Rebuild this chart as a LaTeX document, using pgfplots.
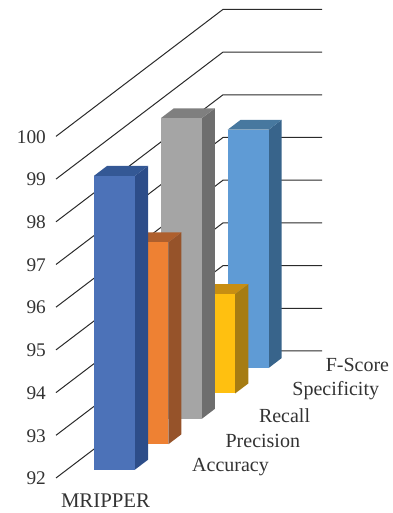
\documentclass[border=0pt]{standalone}
\usepackage{fontspec}
\setmainfont{Liberation Serif}
\usepackage{pgfplots}
\pgfplotsset{compat=1.18}
\definecolor{gridc}{HTML}{2A2A2A}
\definecolor{labelc}{HTML}{333333}
\definecolor{aF}{HTML}{4C72B8}\definecolor{aS}{HTML}{2D4D89}\definecolor{aT}{HTML}{345895}
\definecolor{pF}{HTML}{EE8133}\definecolor{pS}{HTML}{96532A}\definecolor{pT}{HTML}{AE5F2D}
\definecolor{rF}{HTML}{A5A5A5}\definecolor{rS}{HTML}{6E6E6E}\definecolor{rT}{HTML}{7F7F7F}
\definecolor{sF}{HTML}{FFC010}\definecolor{sS}{HTML}{A67C12}\definecolor{sT}{HTML}{C78E12}
\definecolor{fF}{HTML}{5F9BD5}\definecolor{fS}{HTML}{38648B}\definecolor{fT}{HTML}{47789F}
% A cuboid: #1 depth slot, #2 value, #3 front, side and top colour prefix
\newcommand{\cuboid}[3]{%
  \addplot3[draw=none,fill=#3S,forget plot] coordinates {(68,#1.33,92)(68,#1.72,92)(68,#1.72,#2)(68,#1.33,#2)} --cycle;
  \addplot3[draw=none,fill=#3T,forget plot] coordinates {(27,#1.33,#2)(68,#1.33,#2)(68,#1.72,#2)(27,#1.72,#2)} --cycle;
  \addplot3[draw=none,fill=#3F,forget plot] coordinates {(27,#1.33,92)(68,#1.33,92)(68,#1.33,#2)(27,#1.33,#2)} --cycle;
}
\newcommand{\wall}[1]{%
  \addplot3[gridc,line width=1pt,forget plot] coordinates {(0,0,#1)(0,5,#1)(99,5,#1)};
}
\begin{document}
\begin{tikzpicture}
\begin{axis}[
  x={(1pt,0pt)}, y={(33.4pt,25.4pt)}, z={(0pt,42.7pt)},
  xmin=0, xmax=99, ymin=0, ymax=5, zmin=92, zmax=100,
  clip=false,
  axis x line=bottom, axis y line=right, axis z line=left,
  axis line style={draw=none},
  tick style={draw=none},
  major tick length=0pt,
  grid=none,
  xtick={49.5}, xticklabels={MRIPPER},
  ytick={0.5,1.5,2.5,3.5,4.5},
  yticklabels={Accuracy,Precision,Recall,Specificity,F-Score},
  ztick={92,93,...,100},
  /pgf/number format/assume math mode=true,
  tick label style={text=labelc,inner sep=0pt},
  xticklabel style={font=\fontsize{20.8}{24}\selectfont,anchor=center,yshift=-23pt},
  yticklabel style={font=\fontsize{20}{24}\selectfont,anchor=west,xshift=119.3pt,yshift=-343pt},
  zticklabel style={font=\fontsize{19.3}{22}\selectfont,anchor=east,xshift=-10pt,yshift=-0.5pt},
]
\wall{92}\wall{93}\wall{94}\wall{95}\wall{96}\wall{97}\wall{98}\wall{99}\wall{100}
\cuboid{4}{97.58}{f}
\cuboid{3}{94.33}{s}
\cuboid{2}{99.04}{r}
\cuboid{1}{96.73}{p}
\cuboid{0}{98.88}{a}
\coordinate (pageSW) at (axis cs:-56,0,91.18);
\coordinate (pageNE) at (axis cs:336,0,103.194);
\end{axis}
\pgfresetboundingbox
\path[use as bounding box] (pageSW) rectangle (pageNE);
\end{tikzpicture}
\end{document}
